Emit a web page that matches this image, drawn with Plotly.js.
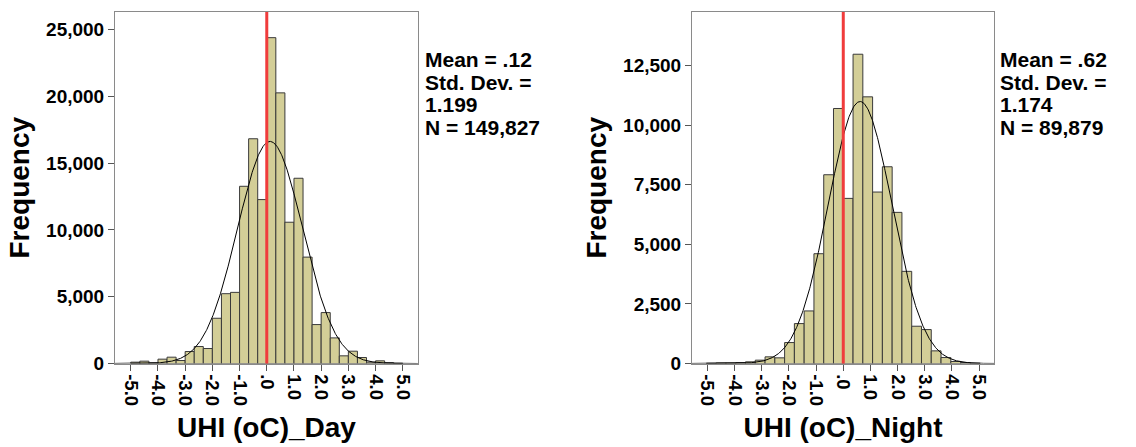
<!DOCTYPE html>
<html><head><meta charset="utf-8">
<script src="https://cdn.plot.ly/plotly-3.0.1.min.js"></script>
<style>html,body{margin:0;padding:0;background:#fff;}#chart{width:1136px;height:447px;}</style>
</head><body><div id="chart"></div>
<script>
// ---- Data ----
const dayCounts = [100,174,50,324,473,224,896,1270,1120,3386,5224,5323,13259,16816,12265,
                   24380,20250,10570,13860,7960,2913,3810,1917,573,921,448,100,200,75,25];
const dayBinStart = -5.0;
const dayBinWidth = 1/3;
const dayMean = 0.12, daySD = 1.199, dayN = 149827;

const nightCounts = [14,28,28,42,70,140,279,237,879,1675,2206,4607,7921,10701,
                     6929,12978,11190,7195,8256,6342,3867,1564,1424,530,251,84,42,14];
const nightBinStart = -5.04;
const nightBinWidth = 0.36;
const nightMean = 0.62, nightSD = 1.174, nightN = 89879;

const xTickVals = [-5,-4,-3,-2,-1,0,1,2,3,4,5];
const xTickText = ["-5.0","-4.0","-3.0","-2.0","-1.0",".0","1.0","2.0","3.0","4.0","5.0"];
const dayStats = ["Mean = .12","Std. Dev. =","1.199","N = 149,827"];
const nightStats = ["Mean = .62","Std. Dev. =","1.174","N = 89,879"];
const dayTitle = "UHI (oC)_Day";
const nightTitle = "UHI (oC)_Night";
const yTitle = "Frequency";

// ---- helpers ----
function centers(start, w, n){ const c=[]; for(let i=0;i<n;i++) c.push(start + (i+0.5)*w); return c; }
function normalCurve(m, sd, N, w){
  const xs=[], ys=[];
  for(let x=-5.8; x<=5.8; x+=0.02){
    xs.push(x);
    ys.push(N*w/(sd*Math.sqrt(2*Math.PI))*Math.exp(-0.5*Math.pow((x-m)/sd,2)));
  }
  return {xs, ys};
}

const FONT = "Liberation Sans, Arial, sans-serif";
const barFill = "#d3ce97", barLine = "#3a3a3a";

const dayCurve = normalCurve(dayMean, daySD, dayN, dayBinWidth);
const nightCurve = normalCurve(nightMean, nightSD, nightN, nightBinWidth);

const traces = [
  {type:'bar', x:centers(dayBinStart, dayBinWidth, dayCounts.length), y:dayCounts, width:dayBinWidth,
   marker:{color:barFill, line:{color:barLine, width:1}}, xaxis:'x', yaxis:'y', hoverinfo:'skip'},
  {type:'scatter', mode:'lines', x:dayCurve.xs, y:dayCurve.ys, line:{color:'#000', width:1},
   xaxis:'x', yaxis:'y', hoverinfo:'skip'},
  {type:'bar', x:centers(nightBinStart, nightBinWidth, nightCounts.length), y:nightCounts, width:nightBinWidth,
   marker:{color:barFill, line:{color:barLine, width:1}}, xaxis:'x2', yaxis:'y2', hoverinfo:'skip'},
  {type:'scatter', mode:'lines', x:nightCurve.xs, y:nightCurve.ys, line:{color:'#000', width:1},
   xaxis:'x2', yaxis:'y2', hoverinfo:'skip'}
];

const W=1136, H=447;
const yDom = [1-363.5/H, 1-12/H];
function xAxis(dom, range, title){
  return {domain:dom, range:range, tickvals:xTickVals, ticktext:xTickText, tickangle:90,
    ticks:'outside', ticklen:6, tickcolor:'#555', showline:true, mirror:true, linecolor:'#8a8a8a', linewidth:1,
    showgrid:false, zeroline:false, automargin:false,
    tickfont:{family:FONT, size:18.5, weight:'bold', color:'#000'},
    title:{text:title, standoff:12, font:{family:FONT, size:28, weight:'bold', color:'#000'}}};
}
function yAxis(range, dtick){
  return {domain:yDom, range:range, dtick:dtick, tickformat:',d',
    ticks:'outside', ticklen:6, tickcolor:'#555', showline:true, mirror:true, linecolor:'#8a8a8a', linewidth:1,
    showgrid:false, zeroline:false, automargin:false,
    tickfont:{family:FONT, size:19, weight:'bold', color:'#000'},
    title:{text:yTitle, standoff:8, font:{family:FONT, size:28, weight:'bold', color:'#000'}}};
}
const statY = [0.8675, 0.8165, 0.7655, 0.7145];
const annotations = [];
dayStats.forEach((t,i)=>annotations.push({text:t, xref:'paper', yref:'paper', x:423/W, y:statY[i],
  xanchor:'left', yanchor:'middle', showarrow:false, font:{family:FONT, size:21, weight:'bold', color:'#000'}}));
nightStats.forEach((t,i)=>annotations.push({text:t, xref:'paper', yref:'paper', x:998/W, y:statY[i],
  xanchor:'left', yanchor:'middle', showarrow:false, font:{family:FONT, size:21, weight:'bold', color:'#000'}}));

const layout = {
  width:W, height:H, margin:{l:0,r:0,t:0,b:0}, paper_bgcolor:'#fff', plot_bgcolor:'#fff',
  showlegend:false, bargap:0,
  xaxis: Object.assign(xAxis([115/W, 418/W], [-5.58, 5.56], dayTitle), {anchor:'y'}),
  yaxis: Object.assign(yAxis([0, 26300], 5000), {anchor:'x'}),
  xaxis2: Object.assign(xAxis([692/W, 994/W], [-5.57, 5.55], nightTitle), {anchor:'y2'}),
  yaxis2: Object.assign(yAxis([0, 14750], 2500), {anchor:'x2'}),
  shapes:[
    {type:'line', xref:'x', yref:'y domain', x0:0, x1:0, y0:0, y1:1, line:{color:'#f03c3c', width:3}, layer:'above'},
    {type:'line', xref:'x2', yref:'y2 domain', x0:0, x1:0, y0:0, y1:1, line:{color:'#f03c3c', width:3}, layer:'above'}
  ],
  annotations: annotations
};
Plotly.newPlot('chart', traces, layout, {staticPlot:true, displayModeBar:false});
</script></body></html>
